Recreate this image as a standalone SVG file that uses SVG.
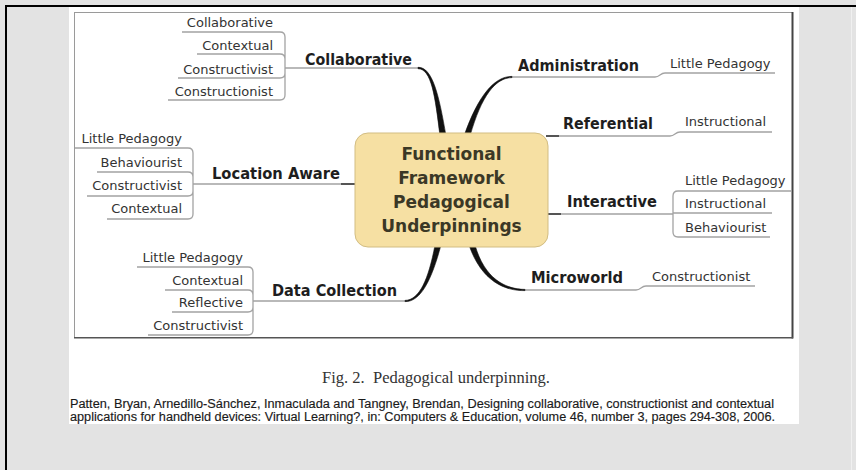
<svg xmlns="http://www.w3.org/2000/svg" width="856" height="470" viewBox="0 0 856 470">
<defs>
<style>
.sub{font-family:"DejaVu Sans",Verdana,sans-serif;font-size:13px;fill:#333}
.subr{font-family:"DejaVu Sans",Verdana,sans-serif;font-size:13px;fill:#333;text-anchor:end}
.main{font-family:"DejaVu Sans",Verdana,sans-serif;font-size:15.5px;font-weight:bold;fill:#1e1e1e}
.ctr{font-family:"DejaVu Sans",Verdana,sans-serif;font-size:17px;font-weight:bold;fill:#3b3826;text-anchor:middle}
.ln{fill:none;stroke:#a3a3a3;stroke-width:1.3}
.stub{fill:none;stroke:#555;stroke-width:2}
.thick{fill:#111;stroke:#111;stroke-width:0.6;stroke-linejoin:round}
.cap{font-family:"Liberation Serif","Times New Roman",serif;font-size:16.5px;fill:#333;text-anchor:middle;white-space:pre}
.cit{font-family:"Liberation Sans",Arial,sans-serif;font-size:12.5px;fill:#1a1a1a;stroke:#1a1a1a;stroke-width:0.15}
</style>
</defs>
<rect width="856" height="470" fill="#e3e3e3"/>
<path d="M6,470 V6 H856" fill="none" stroke="#000" stroke-width="2"/>
<line x1="851.5" y1="7" x2="851.5" y2="470" stroke="#f0f0f0" stroke-width="1"/>
<rect x="69" y="7" width="730" height="417" fill="#fff"/>
<g id="frame">
<rect x="74.5" y="12.5" width="718" height="325" fill="none" stroke="#9a9a9a" stroke-width="1"/>
<path d="M792.5,12 V338.5" stroke="#444" stroke-width="2" fill="none"/>
<path d="M74,337.8 H793" stroke="#555" stroke-width="1.6" fill="none"/>
</g>
<g id="connectors">
<path class="ln" d="M182,32 H280 Q285,32 285,37 V68 M197,54 H280 Q285,54 285,59 V68 M178,78 H280 Q285,78 285,73 V68 M168,100 H280 Q285,100 285,95 V68 M285,68 H420"/>
<path class="ln" d="M75,148 H188 Q193,148 193,153 V184 M97,172 H188 Q193,172 193,177 V184 M87,196 H188 Q193,196 193,191 V184 M107,219 H188 Q193,219 193,214 V184 M193,184 H356"/>
<path class="ln" d="M137,267 H248 Q253,267 253,272 V301 M165,290 H248 Q253,290 253,295 V301 M172,312 H248 Q253,312 253,307 V301 M148,335 H248 Q253,335 253,330 V301 M253,301 H407"/>
<path class="ln" d="M673,214 V196 Q673,191 678,191 H792 M673,213 H772 M673,214 V232 Q673,237 678,237 H770 M547,214 H673"/>
<path class="ln" d="M510,77 H655 C660,77 660,73 665,73 H775"/>
<path class="ln" d="M546,136 H670 C675,136 675,132 680,132 H772"/>
<path class="ln" d="M523,290 H636 C641,290 641,286 646,286 H755"/>
<path class="stub" d="M341,184 H357 M546,136 H559 M546,214 H561"/>
<path class="thick" d="M418,67.3 C432.5,67 439,95 446,136 L440,136 C435,95.5 431.5,69 418,68.7 Z"/>
<path class="thick" d="M512,76.4 C495,76.2 478.5,94.5 464,136 L470,136 C481.5,95.5 495.5,77.8 512,77.6 Z"/>
<path class="thick" d="M405,300.4 C419.5,300 428.5,279.5 435,245 L441,245 C431.5,280.5 420.5,302 405,301.6 Z"/>
<path class="thick" d="M525,289.4 C505,289.2 484.5,278.5 475,245 L469,245 C481.5,281.5 505,291 525,290.6 Z"/>
</g>
<g id="center">
<rect x="355" y="133" width="193" height="114" rx="13" fill="#f6e0a3" stroke="#d2bd83" stroke-width="1"/>
<text class="ctr" x="451.5" y="160">Functional</text>
<text class="ctr" x="451.5" y="184">Framework</text>
<text class="ctr" x="451.5" y="208">Pedagogical</text>
<text class="ctr" x="451.5" y="232">Underpinnings</text>
</g>
<g id="collaborative"><text class="main" x="305" y="65" textLength="107" lengthAdjust="spacingAndGlyphs">Collaborative</text></g>
<g id="administration"><text class="main" x="518" y="71" textLength="121" lengthAdjust="spacingAndGlyphs">Administration</text></g>
<g id="referential"><text class="main" x="563" y="129" textLength="90" lengthAdjust="spacingAndGlyphs">Referential</text></g>
<g id="location-aware"><text class="main" x="212" y="179" textLength="128" lengthAdjust="spacingAndGlyphs">Location Aware</text></g>
<g id="interactive"><text class="main" x="567" y="207" textLength="90" lengthAdjust="spacingAndGlyphs">Interactive</text></g>
<g id="microworld"><text class="main" x="531" y="283" textLength="92" lengthAdjust="spacingAndGlyphs">Microworld</text></g>
<g id="data-collection"><text class="main" x="272" y="296" textLength="125" lengthAdjust="spacingAndGlyphs">Data Collection</text></g>
<g id="collab-collaborative"><text class="subr" x="273" y="27">Collaborative</text></g>
<g id="collab-contextual"><text class="subr" x="273" y="50">Contextual</text></g>
<g id="collab-constructivist"><text class="subr" x="273" y="74">Constructivist</text></g>
<g id="collab-constructionist"><text class="subr" x="273" y="96">Constructionist</text></g>
<g id="loc-little"><text class="subr" x="182" y="143">Little Pedagogy</text></g>
<g id="loc-behaviourist"><text class="subr" x="182" y="167">Behaviourist</text></g>
<g id="loc-constructivist"><text class="subr" x="182" y="190">Constructivist</text></g>
<g id="loc-contextual"><text class="subr" x="182" y="213">Contextual</text></g>
<g id="data-little"><text class="subr" x="243" y="262">Little Pedagogy</text></g>
<g id="data-contextual"><text class="subr" x="243" y="285">Contextual</text></g>
<g id="data-reflective"><text class="subr" x="243" y="307">Reflective</text></g>
<g id="data-constructivist"><text class="subr" x="243" y="330">Constructivist</text></g>
<g id="admin-little"><text class="sub" x="670" y="68">Little Pedagogy</text></g>
<g id="ref-instructional"><text class="sub" x="685" y="126">Instructional</text></g>
<g id="int-little"><text class="sub" x="685" y="185">Little Pedagogy</text></g>
<g id="int-instructional"><text class="sub" x="685" y="208">Instructional</text></g>
<g id="int-behaviourist"><text class="sub" x="685" y="232">Behaviourist</text></g>
<g id="micro-constructionist"><text class="sub" x="652" y="281">Constructionist</text></g>
<g id="caption">
<text class="cap" x="436" y="383">Fig. 2.  Pedagogical underpinning.</text>
<text class="cit" x="70" y="408" textLength="704" lengthAdjust="spacingAndGlyphs">Patten, Bryan, Arnedillo-Sánchez, Inmaculada and Tangney, Brendan, Designing collaborative, constructionist and contextual</text>
<text class="cit" x="70" y="421" textLength="705" lengthAdjust="spacingAndGlyphs">applications for handheld devices: Virtual Learning?, in: Computers &amp; Education, volume 46, number 3, pages 294-308, 2006.</text>
</g>
</svg>
